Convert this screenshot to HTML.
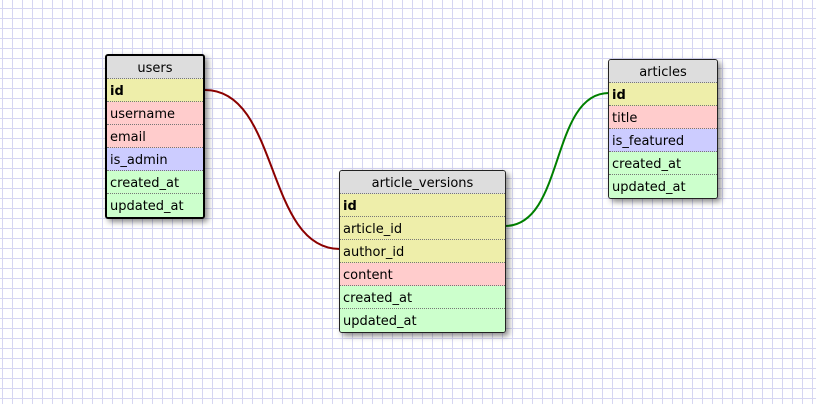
<!DOCTYPE html>
<html><head><meta charset="utf-8"><style>
html,body{margin:0;padding:0}
body{width:816px;height:404px;overflow:hidden;position:relative;background-color:#fff;
background-image:linear-gradient(to right,#d6d6f2 1px,transparent 1px),linear-gradient(to bottom,#d6d6f2 1px,transparent 1px);
background-size:10px 10px;background-position:2px 8px;font-family:"DejaVu Sans","Liberation Sans",sans-serif;font-size:13px;color:#000}
.t{position:absolute;border:1px solid #222;border-radius:3px;box-shadow:3px 3px 6px rgba(0,0,0,.45);overflow:hidden;background:#ddd}
.t.sel{border:2px solid #000}
.h{height:23px;line-height:25px;text-align:center;background:#ddd;border-bottom:1px dotted #777;box-sizing:border-box}
.r{height:23px;line-height:25px;padding-left:3px;border-bottom:1px dotted #777;box-sizing:border-box;overflow:hidden}
.r:last-child{border-bottom:none}
.y{background:#eeeeaa}.p{background:#ffcccc}.b{background:#ccccff}.g{background:#ccffcc}
.k{font-weight:bold}
svg{position:absolute;left:0;top:0}
</style></head><body>
<svg width="816" height="404">
<path d="M205 90 C 280 90, 265 249, 340 249" fill="none" stroke="#8b0000" stroke-width="2"/>
<path d="M505 226 C 565 226, 550 93, 609 93" fill="none" stroke="#008000" stroke-width="2"/>
</svg>
<div class="t sel" style="left:105px;top:54px;width:96px;height:161px">
<div class="h">users</div>
<div class="r y k">id</div>
<div class="r p">username</div>
<div class="r p">email</div>
<div class="r b">is_admin</div>
<div class="r g">created_at</div>
<div class="r g">updated_at</div>
</div>
<div class="t" style="left:339px;top:170px;width:165px;height:161px">
<div class="h">article_versions</div>
<div class="r y k">id</div>
<div class="r y">article_id</div>
<div class="r y">author_id</div>
<div class="r p">content</div>
<div class="r g">created_at</div>
<div class="r g">updated_at</div>
</div>
<div class="t" style="left:608px;top:59px;width:108px;height:138px">
<div class="h">articles</div>
<div class="r y k">id</div>
<div class="r p">title</div>
<div class="r b">is_featured</div>
<div class="r g">created_at</div>
<div class="r g">updated_at</div>
</div>
</body></html>
